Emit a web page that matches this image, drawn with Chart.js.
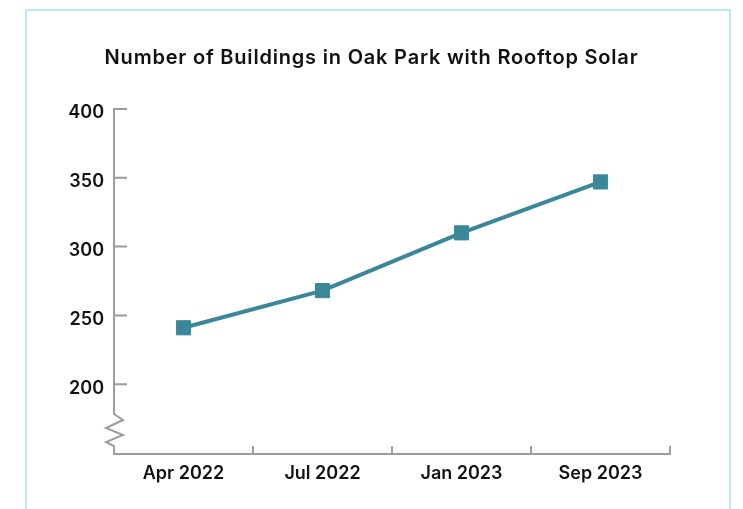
<!DOCTYPE html>
<html>
<head>
<meta charset="utf-8">
<script src="https://cdn.jsdelivr.net/npm/chart.js@4.4.1/dist/chart.umd.min.js"></script>
<style>
  html, body { margin: 0; padding: 0; background: #fff; }
  #wrap { position: relative; width: 743px; height: 509px; }
  #frame {
    position: absolute; left: 25px; top: 9px; width: 702px; height: 520px;
    border: 2px solid #b9e9f3;
  }
  canvas { position: absolute; left: 0; top: 0; }
</style>
</head>
<body>
<div id="wrap">
  <div id="frame"></div>
  <canvas id="chart" width="743" height="509"></canvas>
</div>
<script>
const chartTitle = 'Number of Buildings in Oak Park with Rooftop Solar';
const months = ['Apr 2022', 'Jul 2022', 'Jan 2023', 'Sep 2023'];
const buildings = [241, 268, 310, 347];
const yTicks = [200, 250, 300, 350, 400];
const yMin = 150;
const yMax = 400;

const axisColor = '#9c9ca0';
const teal = '#3b8799';
const labelFont = { family: 'Inter', size: 18, weight: '600' };

// title centred on the whole canvas, slightly tracked out
const titlePlugin = {
  id: 'centredTitle',
  afterDraw(chart) {
    const ctx = chart.ctx;
    ctx.save();
    ctx.font = '600 20px Inter';
    ctx.letterSpacing = '0.8px';
    ctx.fillStyle = '#111';
    ctx.textAlign = 'center';
    ctx.textBaseline = 'middle';
    ctx.fillText(chartTitle, chart.width / 2, 58);
    ctx.restore();
  }
};

// axis lines drawn by hand: inner tick marks and a break on the y axis
const axesPlugin = {
  id: 'axes',
  afterDraw(chart) {
    const ctx = chart.ctx;
    const area = chart.chartArea;
    const x = chart.scales.x;
    const y = chart.scales.y;
    const left = area.left;
    const bottom = area.bottom + 1;
    ctx.save();
    ctx.strokeStyle = axisColor;
    ctx.lineWidth = 2;
    ctx.lineJoin = 'miter';

    // y axis with zigzag break near the bottom
    ctx.beginPath();
    ctx.moveTo(left, y.getPixelForValue(yMax));
    ctx.lineTo(left, bottom - 40);
    ctx.lineTo(left + 9, bottom - 34);
    ctx.lineTo(left - 8, bottom - 26);
    ctx.lineTo(left + 9, bottom - 19);
    ctx.lineTo(left - 8, bottom - 12);
    ctx.lineTo(left, bottom - 8);
    ctx.lineTo(left, bottom);
    // x axis
    ctx.lineTo(area.right, bottom);
    ctx.stroke();

    // y tick marks pointing inward
    ctx.beginPath();
    yTicks.forEach(v => {
      const py = y.getPixelForValue(v);
      ctx.moveTo(left - 1, py);
      ctx.lineTo(left + 13, py);
    });
    // x tick marks at category boundaries
    for (let i = 1; i <= months.length; i++) {
      const px = x.getPixelForValue(i - 0.5);
      ctx.moveTo(px, bottom + 1);
      ctx.lineTo(px, bottom - 8);
    }
    ctx.stroke();
    ctx.restore();
  }
};

new Chart(document.getElementById('chart'), {
  type: 'line',
  data: {
    labels: months,
    datasets: [{
      data: buildings,
      borderColor: teal,
      backgroundColor: teal,
      borderWidth: 4,
      pointStyle: 'rect',
      pointRadius: 10,
      pointBorderWidth: 1,
      pointBackgroundColor: teal,
      pointBorderColor: teal,
      tension: 0,
      clip: false
    }]
  },
  options: {
    responsive: false,
    animation: false,
    layout: { padding: { top: 109, right: 73, bottom: 0, left: 0 } },
    plugins: {
      legend: { display: false },
      tooltip: { enabled: false },
      title: { display: false }
    },
    scales: {
      x: {
        type: 'category',
        offset: true,
        grid: { display: false, drawTicks: false },
        border: { display: false },
        ticks: { color: '#111', font: labelFont, padding: 10, maxRotation: 0 },
        afterFit(scale) { scale.height = 56; }
      },
      y: {
        min: yMin,
        max: yMax,
        grid: { display: false, drawTicks: false },
        border: { display: false },
        afterBuildTicks(scale) { scale.ticks = yTicks.map(v => ({ value: v })); },
        ticks: { color: '#111', font: labelFont, padding: 10, labelOffset: 4 },
        afterFit(scale) { scale.width = 114; }
      }
    }
  },
  plugins: [axesPlugin, titlePlugin]
});
</script>
</body>
</html>
